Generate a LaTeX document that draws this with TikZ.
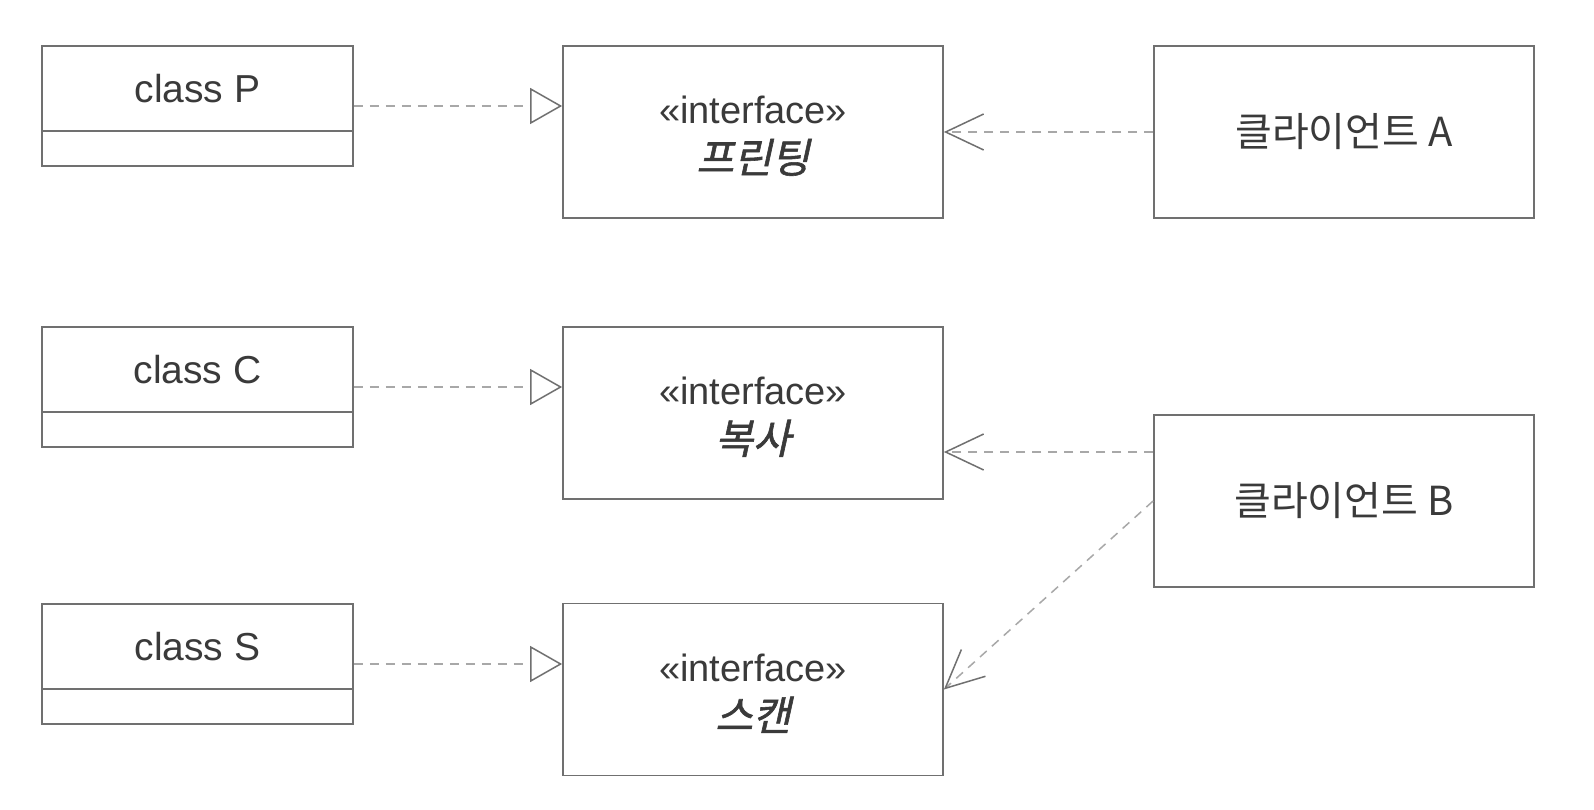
\documentclass[tikz,border=0pt]{standalone}
\usepackage{fontspec}
\setmainfont{Liberation Sans}
\newfontfamily\kr{Noto Sans CJK KR}
\newfontfamily\krit[FakeSlant=0.22,FakeBold=1.4]{Noto Sans CJK KR}
\usetikzlibrary{arrows.meta,calc}
\definecolor{boxline}{HTML}{707070}
\definecolor{dashline}{HTML}{A8A8A8}
\definecolor{txt}{HTML}{3A3A3A}
\begin{document}
\begin{tikzpicture}[x=1pt,y=-1pt,
  box/.style={draw=boxline, line width=1.8pt, rectangle, inner sep=0pt, text=txt},
  classbox/.style={box, minimum width=311pt, minimum height=120pt},
  bigbox/.style={box, minimum width=380pt, minimum height=172pt, align=center},
  classlabel/.style={text=txt, font=\fontsize{39}{46}\selectfont},
  ifacelabel/.style={text=txt, align=center, inner sep=0pt, font=\fontsize{38}{49}\selectfont},
  clientfont/.style={font=\kr\fontsize{40}{46}\selectfont},
  divider/.style={draw=boxline, line width=1.8pt},
  realize/.style={draw=dashline, line width=1.5pt, dash pattern=on 9pt off 7pt,
    -{Triangle[open, length=32pt, width=36pt, line width=1.5pt, color=boxline, fill=white]}},
  depend/.style={draw=dashline, line width=1.5pt, dash pattern=on 9pt off 7pt,
    -{Straight Barb[length=38pt, width=36pt, line width=1.5pt, color=boxline]}}
]
\useasboundingbox (0,0) rectangle (1594,810);
\fill[white] (0,0) rectangle (1594,810);

% class boxes
\foreach \n/\t/\y in {P/P/106, C/C/387, S/S/664}{
  \node[classbox] (\n) at (197.5,\y) {};
  \draw[divider] ($(\n.north west)+(0,86)$) -- ($(\n.north east)+(0,86)$);
  \node[classlabel] (\n lbl) at ($(\n.north)+(0,43)$) {class \t};
}

% interfaces
\foreach \n/\k/\y in {I1/프린팅/132, I2/복사/413, I3/스캔/689.5}{
  \node[bigbox] (\n) at (753,\y) {};
  \node[ifacelabel] (\n lbl) at ($(\n.center)+(0,4)$) {«interface»\\{\krit\fontsize{41}{49}\selectfont \k}};
}

% clients
\node[bigbox, clientfont] (A) at (1344,132) {클라이언트 A};
\node[bigbox, clientfont] (B) at (1344,501) {클라이언트 B};

% realizations
\draw[realize] (P.east) -- (P.east -| I1.west);
\draw[realize] (C.east) -- (C.east -| I2.west);
\draw[realize] (S.east) -- (S.east -| I3.west);

% dependencies
\draw[depend] (A.west) -- (I1.east);
\coordinate (b1) at ($(B.west)+(0,-49)$);
\draw[depend] (b1) -- (b1 -| I2.east);
\draw[depend] (B.west) -- (I3.east);
\end{tikzpicture}
\end{document}
